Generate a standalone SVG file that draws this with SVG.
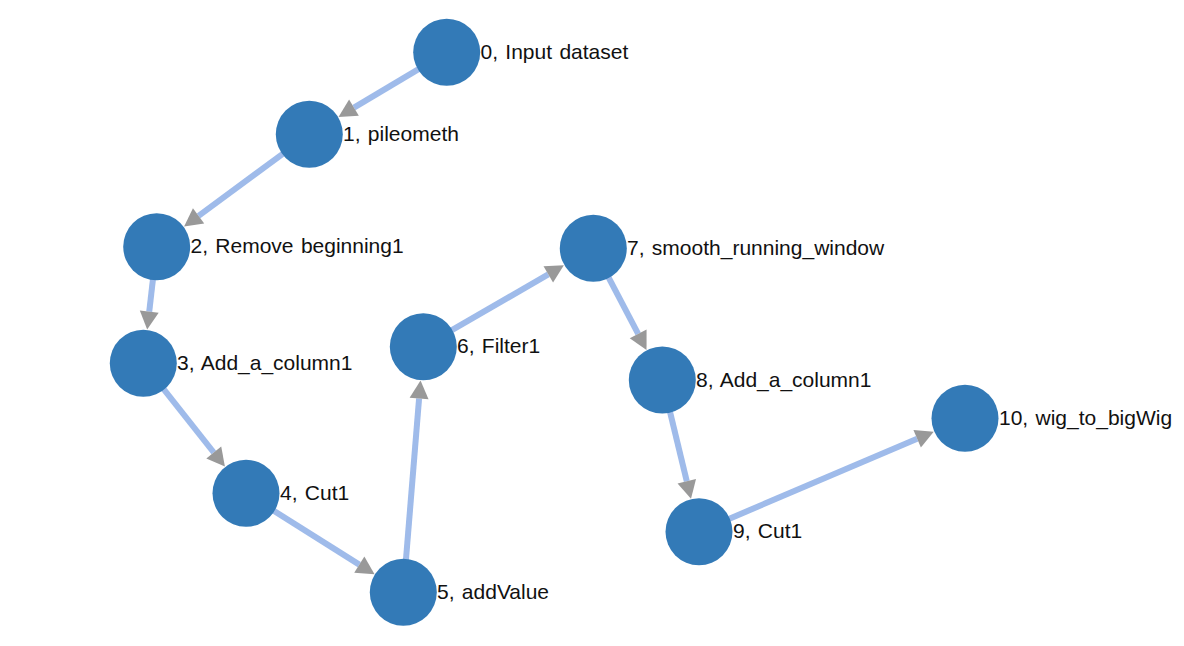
<svg xmlns="http://www.w3.org/2000/svg" width="1184" height="646" viewBox="0 0 1184 646">
<style>
.e{stroke:#9fbbea;stroke-width:6;fill:none;marker-end:url(#arr)}
.n{fill:#337ab7}
.t{font-family:"Liberation Sans",Arial,sans-serif;font-size:21px;word-spacing:1.5px;fill:#111}
</style>
<defs>
<marker id="arr" markerUnits="userSpaceOnUse" markerWidth="18" markerHeight="19" refX="0" refY="9.5" orient="auto" overflow="visible">
<path d="M0,0 L18,9.5 L0,19 z" fill="#999"/>
</marker>
</defs>
<rect width="1184" height="646" fill="#fff"/>
<g id="edges">
<line class="e" x1="446.7" y1="52.3" x2="353.96" y2="107.67"/>
<line class="e" x1="309.3" y1="134.3" x2="198.58" y2="215.85"/>
<line class="e" x1="156.7" y1="246.7" x2="149.24" y2="311.64"/>
<line class="e" x1="143.3" y1="363.3" x2="213.76" y2="452.5"/>
<line class="e" x1="246" y1="493.3" x2="359.3" y2="564.6"/>
<line class="e" x1="403.3" y1="592.3" x2="419.08" y2="398.53"/>
<line class="e" x1="423.3" y1="346.7" x2="548.29" y2="274.35"/>
<line class="e" x1="593.3" y1="248.3" x2="638.17" y2="333.94"/>
<line class="e" x1="662.3" y1="380" x2="686.78" y2="481.17"/>
<line class="e" x1="699" y1="531.7" x2="917.16" y2="438.69"/>
</g>
<g id="node0"><circle class="n" cx="446.7" cy="52.3" r="33.5"/><text class="t" x="480.5" y="58.8">0, Input dataset</text></g>
<g id="node1"><circle class="n" cx="309.3" cy="134.3" r="33.5"/><text class="t" x="343" y="140.8">1, pileometh</text></g>
<g id="node2"><circle class="n" cx="156.7" cy="246.7" r="33.5"/><text class="t" x="190.5" y="253.2">2, Remove beginning1</text></g>
<g id="node3"><circle class="n" cx="143.3" cy="363.3" r="33.5"/><text class="t" x="177" y="369.8">3, Add_a_column1</text></g>
<g id="node4"><circle class="n" cx="246" cy="493.3" r="33.5"/><text class="t" x="280" y="499.8">4, Cut1</text></g>
<g id="node5"><circle class="n" cx="403.3" cy="592.3" r="33.5"/><text class="t" x="437" y="598.8">5, addValue</text></g>
<g id="node6"><circle class="n" cx="423.3" cy="346.7" r="33.5"/><text class="t" x="457" y="353.2">6, Filter1</text></g>
<g id="node7"><circle class="n" cx="593.3" cy="248.3" r="33.5"/><text class="t" x="627" y="254.8">7, smooth_running_window</text></g>
<g id="node8"><circle class="n" cx="662.3" cy="380" r="33.5"/><text class="t" x="696" y="386.5">8, Add_a_column1</text></g>
<g id="node9"><circle class="n" cx="699" cy="531.7" r="33.5"/><text class="t" x="733" y="538.2">9, Cut1</text></g>
<g id="node10"><circle class="n" cx="965" cy="418.3" r="33.5"/><text class="t" x="999" y="424.8">10, wig_to_bigWig</text></g>
</svg>
